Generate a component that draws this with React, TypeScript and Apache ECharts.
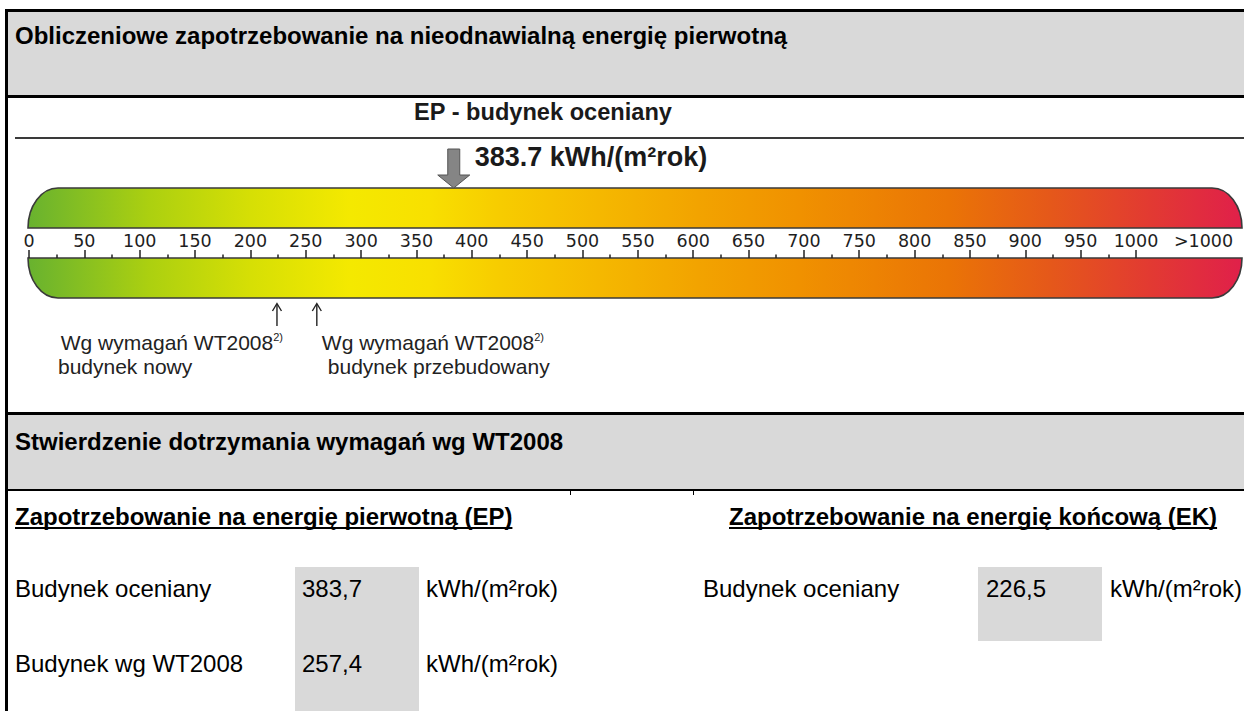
import React, { useEffect, useRef } from "react";
import * as echarts from "echarts";

// ---------------- data ----------------
const TITLE_MAIN = "Obliczeniowe zapotrzebowanie na nieodnawialną energię pierwotną";
const GAUGE_TITLE = "EP - budynek oceniany";
const SECTION_TITLE = "Stwierdzenie dotrzymania wymagań wg WT2008";
const EP_HEADER = "Zapotrzebowanie na energię pierwotną (EP)";
const EK_HEADER = "Zapotrzebowanie na energię końcową (EK)";
const UNIT = "kWh/(m²rok)";

const SCALE_TICKS = [0, 50, 100, 150, 200, 250, 300, 350, 400, 450, 500, 550, 600, 650, 700, 750, 800, 850, 900, 950, 1000];
const SCALE_MINOR_TICKS = [25, 75, 125, 175, 225, 275, 325, 375, 425, 475, 525, 575, 625, 675, 725, 775, 825, 875, 925, 975];
const SCALE_LABEL_VALUES = [0, 50, 100, 150, 200, 250, 300, 350, 400, 450, 500, 550, 600, 650, 700, 750, 800, 850, 900, 950, 1000, 1061];
const SCALE_LABELS = ["0", "50", "100", "150", "200", "250", "300", "350", "400", "450", "500", "550", "600", "650", "700", "750", "800", "850", "900", "950", "1000", ">1000"];
const SCALE_MIN = 0;
const SCALE_MAX = 1096;

const EP_ASSESSED = [383.7];
const REQ_VALUES = [224, 260];
const REQ_LINE1 = ["Wg wymagań WT2008", "Wg wymagań WT2008"];
const REQ_NOTE = "2)";
const REQ_LINE2 = ["budynek nowy", "budynek przebudowany"];

const EP_LABELS = ["Budynek oceniany", "Budynek wg WT2008"];
const EP_VALUES = [383.7, 257.4];
const EK_LABELS = ["Budynek oceniany"];
const EK_VALUES = [226.5];

// ---------------- styles ----------------
const FONT = "'Liberation Sans', Arial, Helvetica, sans-serif";
const FONT_SCALE = "'DejaVu Sans', Verdana, sans-serif";
const GREY = "#d9d9d9";
const PX_PER_UNIT = 1.107;

const GRADIENT_STOPS = [
  { offset: 0, color: "#68b22f" },
  { offset: 0.1, color: "#acd010" },
  { offset: 0.183, color: "#d6df05" },
  { offset: 0.265, color: "#f4e900" },
  { offset: 0.33, color: "#f8e000" },
  { offset: 0.389, color: "#f7cc00" },
  { offset: 0.471, color: "#f5b800" },
  { offset: 0.553, color: "#f2a300" },
  { offset: 0.636, color: "#f09100" },
  { offset: 0.759, color: "#ea7406" },
  { offset: 0.842, color: "#e5581a" },
  { offset: 0.924, color: "#e23a32" },
  { offset: 1, color: "#e0204a" },
];

const TOP_BAR_D = "M28 228 C28 205.9 41.4 188 58 188 L1212 188 C1228.6 188 1242 205.9 1242 228 Z";
const BOTTOM_BAR_D = "M28 258 L1242 258 C1242 280.1 1228.6 298 1212 298 L58 298 C41.4 298 28 280.1 28 258 Z";
echarts.graphic.registerShape("gaugeTop", echarts.graphic.extendPath(TOP_BAR_D, {}));
echarts.graphic.registerShape("gaugeBottom", echarts.graphic.extendPath(BOTTOM_BAR_D, {}));

function textWidth(t: string, font: string): number {
  const ctx = document.createElement("canvas").getContext("2d");
  if (!ctx) return t.length * 12;
  ctx.font = font;
  return ctx.measureText(t).width;
}

const fmt = (v: number) => v.toFixed(1).replace(".", ",");

function rect(x: number, y: number, w: number, h: number, fill: string, z = 1) {
  return { type: "rect", silent: true, z, shape: { x, y, width: w, height: h }, style: { fill } };
}

function txt(x: number, y: number, text: string, o: any = {}) {
  return {
    type: "text",
    silent: true,
    z: 10,
    x,
    y,
    style: {
      text,
      fontFamily: o.fontFamily || FONT,
      fontSize: o.fontSize || 24,
      fontWeight: o.bold ? "bold" : "normal",
      fill: o.fill || "#000",
      textAlign: o.align || "left",
      align: o.align || "left",
      textVerticalAlign: "middle",
      verticalAlign: "middle",
    },
  };
}

function buildOption() {
  const gradient = new echarts.graphic.LinearGradient(0, 0, 1, 0, GRADIENT_STOPS);
  const gradient2 = new echarts.graphic.LinearGradient(0, 0, 1, 0, GRADIENT_STOPS);
  const boldFont = `bold 24px ${FONT}`;

  const elements: any[] = [
    rect(8, 12, 1236, 84, GREY),
    rect(8, 415, 1236, 74, GREY),
    rect(295, 567, 124, 144, GREY),
    rect(978, 567, 124, 74, GREY),
    rect(5, 9, 1239, 3, "#000", 3),
    rect(5, 9, 3, 702, "#000", 3),
    rect(8, 95, 1236, 3, "#000", 3),
    rect(8, 412, 1236, 3, "#000", 3),
    rect(8, 489, 1236, 2, "#000", 3),
    rect(570, 491, 1, 4, "#000", 3),
    rect(693, 491, 1, 4, "#000", 3),
    rect(15, 137, 1229, 2, "#3a3a3a", 3),
    { type: "gaugeTop", x: 0, y: 0, z: 1, silent: true, style: { fill: gradient, stroke: "#3a3a3a", lineWidth: 1.6 } },
    { type: "gaugeBottom", x: 0, y: 0, z: 1, silent: true, style: { fill: gradient2, stroke: "#3a3a3a", lineWidth: 1.6 } },
    txt(15, 35, TITLE_MAIN, { bold: true }),
    txt(543, 112, GAUGE_TITLE, { bold: true, fill: "#1a1a1a", fontSize: 23.6, align: "center" }),
    txt(15, 441, SECTION_TITLE, { bold: true }),
    txt(15, 516, EP_HEADER, { bold: true }),
    rect(15, 527, textWidth(EP_HEADER, boldFont), 2, "#000", 3),
    txt(729, 516, EK_HEADER, { bold: true }),
    rect(729, 527, textWidth(EK_HEADER, boldFont), 2, "#000", 3),
  ];

  const rowY = [588, 663];
  EP_LABELS.forEach((lab, i) => {
    elements.push(txt(15, rowY[i], lab));
    elements.push(txt(302, rowY[i], fmt(EP_VALUES[i])));
    elements.push(txt(426, rowY[i], UNIT));
  });
  EK_LABELS.forEach((lab, i) => {
    elements.push(txt(703, rowY[i], lab));
    elements.push(txt(986, rowY[i], fmt(EK_VALUES[i])));
    elements.push(txt(1110, rowY[i], UNIT));
  });

  const labelStyle = { color: "#1e1e1e", fontFamily: FONT_SCALE, fontSize: 17.5 };

  return {
    animation: false,
    backgroundColor: "#fff",
    graphic: { elements },
    grid: [
      {
        left: 29,
        top: 188,
        width: SCALE_MAX * PX_PER_UNIT,
        height: 70,
        containLabel: false,
        outerBoundsMode: "none",
      },
    ],
    xAxis: [
      {
        type: "value",
        gridIndex: 0,
        min: SCALE_MIN,
        max: SCALE_MAX,
        position: "bottom",
        z: 5,
        axisLine: { show: false },
        splitLine: { show: false },
        axisTick: {
          show: true,
          inside: true,
          length: 8,
          customValues: SCALE_TICKS,
          lineStyle: { color: "#222", width: 1.5 },
        },
        axisLabel: {
          show: true,
          inside: true,
          margin: 8,
          customValues: SCALE_LABEL_VALUES,
          formatter: (v: number) => {
            const i = SCALE_LABEL_VALUES.indexOf(Math.round(v));
            return i >= 0 ? SCALE_LABELS[i] : "";
          },
          ...labelStyle,
        },
      },
      {
        type: "value",
        gridIndex: 0,
        min: SCALE_MIN,
        max: SCALE_MAX,
        position: "bottom",
        offset: 0,
        z: 5,
        axisLine: { show: false },
        splitLine: { show: false },
        axisLabel: { show: false },
        axisTick: {
          show: true,
          inside: true,
          length: 3.5,
          customValues: SCALE_MINOR_TICKS,
          lineStyle: { color: "#222", width: 1.5 },
        },
      },
    ],
    yAxis: [{ type: "value", gridIndex: 0, min: 0, max: 1, show: false }],
    series: [
      {
        type: "custom",
        name: "EP",
        xAxisIndex: 0,
        yAxisIndex: 0,
        clip: false,
        z: 6,
        silent: true,
        data: EP_ASSESSED.map((v) => [v, 0]),
        renderItem: (params: any, api: any) => {
          const v = api.value(0) as number;
          const x = api.coord([v, 0])[0];
          return {
            type: "group",
            children: [
              {
                type: "polygon",
                shape: {
                  points: [
                    [x - 6, 149],
                    [x + 6, 149],
                    [x + 6, 175],
                    [x + 16, 175],
                    [x, 188],
                    [x - 16, 175],
                    [x - 6, 175],
                  ],
                },
                style: { fill: "#858585", stroke: "#555", lineWidth: 1 },
              },
              {
                type: "text",
                x: x + 21,
                y: 157,
                style: {
                  text: `${v.toFixed(1)} ${UNIT}`,
                  fontFamily: FONT,
                  fontWeight: "bold",
                  fontSize: 27,
                  fill: "#1a1a1a",
                  align: "left",
                  verticalAlign: "middle",
                },
              },
            ],
          };
        },
      },
      {
        type: "custom",
        name: "WT2008",
        xAxisIndex: 0,
        yAxisIndex: 0,
        clip: false,
        z: 6,
        silent: true,
        data: REQ_VALUES.map((v, i) => [v, i]),
        renderItem: (params: any, api: any) => {
          const i = params.dataIndex;
          const x = api.coord([api.value(0), 0])[0];
          const lineStyle = { stroke: "#222", lineWidth: 1.4 };
          return {
            type: "group",
            children: [
              { type: "line", shape: { x1: x, y1: 304, x2: x, y2: 326 }, style: lineStyle },
              {
                type: "polyline",
                shape: { points: [[x - 4.5, 311], [x, 303.5], [x + 4.5, 311]] },
                style: { ...lineStyle, fill: null },
              },
              {
                type: "text",
                x: i === 0 ? x + 6 : x + 5,
                y: 342,
                style: {
                  text: `{a|${REQ_LINE1[i]}}{s|${REQ_NOTE}}`,
                  align: i === 0 ? "right" : "left",
                  verticalAlign: "middle",
                  rich: {
                    a: { fontFamily: FONT, fontSize: 21, fill: "#222", lineHeight: 22 },
                    s: { fontFamily: FONT, fontSize: 11, fill: "#222", verticalAlign: "top", lineHeight: 22 },
                  },
                },
              },
              {
                type: "text",
                x: i === 0 ? x - 219 : x + 11,
                y: 366,
                style: {
                  text: REQ_LINE2[i],
                  fontFamily: FONT,
                  fontSize: 21,
                  lineHeight: 22,
                  fill: "#222",
                  align: "left",
                  verticalAlign: "middle",
                },
              },
            ],
          };
        },
      },
    ],
  };
}

export default function App() {
  const ref = useRef<HTMLDivElement>(null);
  useEffect(() => {
    if (!ref.current) return;
    const chart = echarts.init(ref.current, null, { renderer: "svg", width: 1244, height: 711 });
    chart.setOption(buildOption() as any);
    return () => chart.dispose();
  }, []);
  return (
    <div
      ref={ref}
      style={{ position: "fixed", left: 0, top: 0, width: 1244, height: 711, background: "#fff" }}
    />
  );
}
